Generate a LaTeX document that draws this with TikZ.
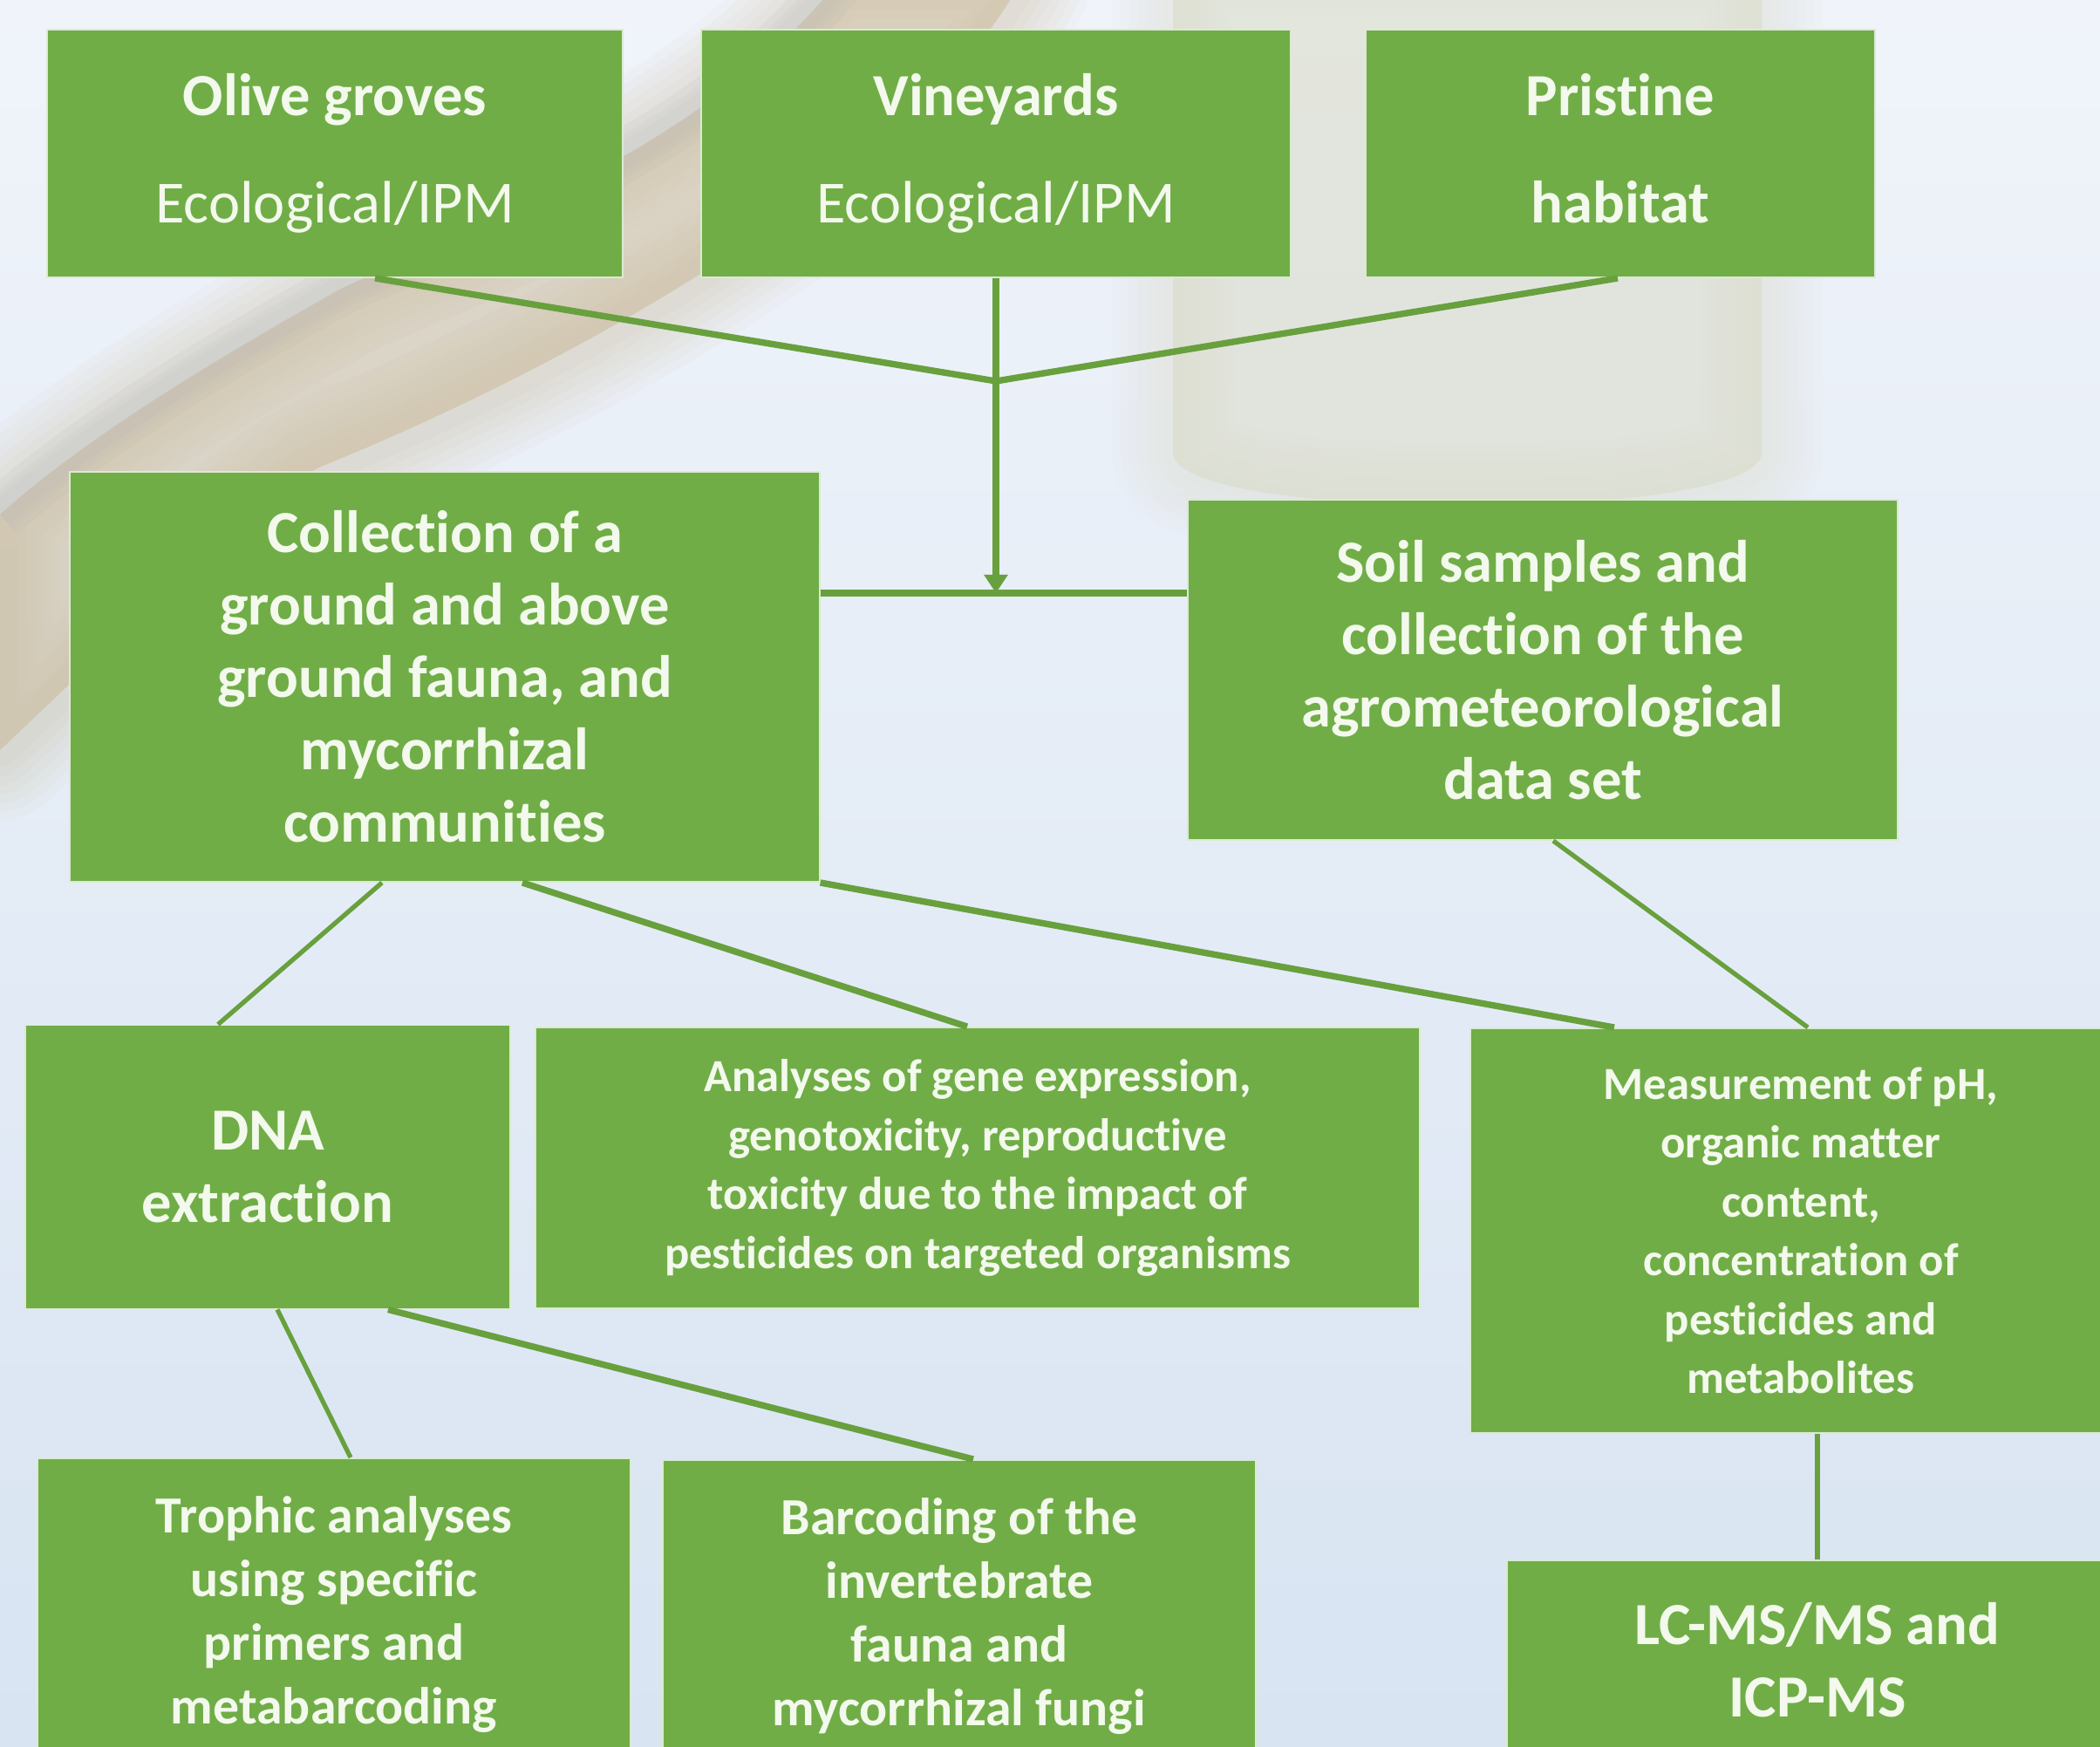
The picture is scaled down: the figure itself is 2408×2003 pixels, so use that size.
\documentclass[tikz,border=0pt]{standalone}
\usepackage{fontspec}
\setmainfont{Carlito}[Ligatures=NoCommon]
\usetikzlibrary{arrows.meta,calc,positioning}

\definecolor{boxgreen}{HTML}{70AD47}
\definecolor{linegreen}{HTML}{68A03D}
\definecolor{textcream}{HTML}{F3F9EC}
\definecolor{bgtop}{HTML}{F0F4FA}
\definecolor{bgbottom}{HTML}{D8E4F2}
\definecolor{branch}{HTML}{C6B38C}
\definecolor{bark}{HTML}{AEB6C0}
\definecolor{leaf}{HTML}{D8D9C2}

\tikzset{
  box/.style={rectangle, fill=boxgreen, draw=boxgreen!25!white, line width=0.5pt,
    text=textcream, align=center, inner sep=0pt,
    font=\bfseries\fontsize{19.5}{23.6}\selectfont},
  toprow/.style={box, minimum height=2.84cm, font=\fontsize{19.5}{35}\selectfont},
  smalltext/.style={font=\bfseries\fontsize{15}{19.2}\selectfont},
  midtext/.style={font=\bfseries\fontsize{17}{20.7}\selectfont},
  link/.style={draw=linegreen, line width=1.5pt},
  thicklink/.style={draw=linegreen, line width=2.1pt},
  haze/.style={line join=round, opacity=0.05},
}

\begin{document}
\begin{tikzpicture}[x=0.01cm, y=-0.01cm, >={Triangle[width=7.5pt,length=6pt]}]
  \path[use as bounding box, clip] (0,0) rectangle (2408,2003);
  % background
  \shade[top color=bgtop, bottom color=bgbottom] (0,0) rectangle (2408,2003);
  % faded leaf
  \foreach \w in {1.4,1.2,...,0.2}
    \draw[leaf, haze, line width=\w cm] (1345,-50) -- (2020,-50) -- (2020,520)
      .. controls (2015,600) and (1350,600) .. (1345,520) -- cycle;
  \fill[leaf, opacity=0.5] (1345,-50) -- (2020,-50) -- (2020,520)
    .. controls (2015,600) and (1350,600) .. (1345,520) -- cycle;
  % faded branch
  \foreach \w in {1.6,1.4,...,0.2}
    \draw[branch, haze, line width=\w cm] (960,-20) .. controls (800,180) and (500,280) .. (393,330)
      .. controls (250,410) and (100,500) .. (0,590) -- (0,860)
      .. controls (150,720) and (300,560) .. (380,530)
      .. controls (650,420) and (1050,200) .. (1170,-20) -- cycle;
  \fill[branch, opacity=0.45] (960,-20) .. controls (800,180) and (500,280) .. (393,330)
      .. controls (250,410) and (100,500) .. (0,590) -- (0,860)
      .. controls (150,720) and (300,560) .. (380,530)
      .. controls (650,420) and (1050,200) .. (1170,-20) -- cycle;
  \foreach \w in {0.6,0.45,0.3}
    \draw[bark, opacity=0.08, line width=\w cm] (960,-20) .. controls (800,180) and (500,280) .. (393,330)
      .. controls (250,410) and (100,500) .. (0,590);

  % sites
  \node[toprow, minimum width=6.6cm]  (olive)    at (384,176)  {\textbf{Olive groves}\\Ecological/IPM};
  \node[toprow, minimum width=6.76cm] (vine)     at (1142,176) {\textbf{Vineyards}\\Ecological/IPM};
  \node[toprow, minimum width=5.84cm] (pristine) at (1858,176) {\textbf{Pristine}\\\textbf{habitat}\vphantom{g}};

  % sampling
  \node[box, minimum width=8.59cm, minimum height=4.7cm] (collect) at (510,776)
    {Collection of a\\ground and above\\ground fauna, and\\mycorrhizal\\communities};
  \node[box, minimum width=8.14cm, minimum height=3.9cm] (soil) at (1769,768)
    {Soil samples and\\collection of the\\agrometeorological\\data set};

  % analyses
  \node[box, minimum width=5.56cm, minimum height=3.25cm] (dna) at (307,1338) {DNA\\extraction};
  \node[box, smalltext, minimum width=10.14cm, minimum height=3.22cm] (analyses) at (1121,1339)
    {Analyses of gene expression,\\genotoxicity, reproductive\\toxicity due to the impact of\\pesticides on targeted organisms};
  \node[box, smalltext, minimum width=7.58cm, minimum height=4.64cm] (measure) at (2065,1411)
    {Measurement of pH,\\organic matter\\content,\\concentration of\\pesticides and\\metabolites};

  % methods
  \node[box, midtext, minimum width=6.8cm, minimum height=3.58cm] (trophic) at (383,1851)
    {Trophic analyses\\using specific\\primers and\\metabarcoding};
  \node[box, midtext, minimum width=6.8cm, minimum height=3.58cm] (barcode) at (1100,1853)
    {Barcoding of the\\invertebrate\\fauna and\\mycorrhizal fungi};
  \node[box, minimum width=7.12cm, minimum height=2.28cm] (lcms) at (2084,1903)
    {LC-MS/MS and\\ICP-MS};

  % connectors
  \coordinate (join) at (1142,437);
  \coordinate (hit)  at (1142,680);
  \draw[thicklink] ($(olive.south)+(46,0)$) -- (join);
  \draw[thicklink] ($(pristine.south)+(-3,0)$) -- (join);
  \draw[thicklink, ->] (vine.south) -- (hit);
  \draw[thicklink] (collect.east |- hit) -- (soil.west |- hit);

  \draw[link]      ($(collect.south)+(-72,0)$) -- ($(dna.north)+(-57,0)$);
  \draw[thicklink] ($(collect.south)+(89,0)$)  -- ($(analyses.north)+(-12,0)$);
  \draw[thicklink] (collect.south east)        -- ($(measure.north)+(-214,0)$);
  \draw[link]      ($(soil.south)+(12,0)$)     -- ($(measure.north)+(8,0)$);
  \draw[link]      ($(dna.south)+(11,0)$)      -- ($(trophic.north)+(19,0)$);
  \draw[thicklink] ($(dna.south)+(138,0)$)     -- ($(barcode.north)+(16,0)$);
  \draw[link]      (measure.south -| lcms.north) -- (lcms.north);
\end{tikzpicture}
\end{document}
